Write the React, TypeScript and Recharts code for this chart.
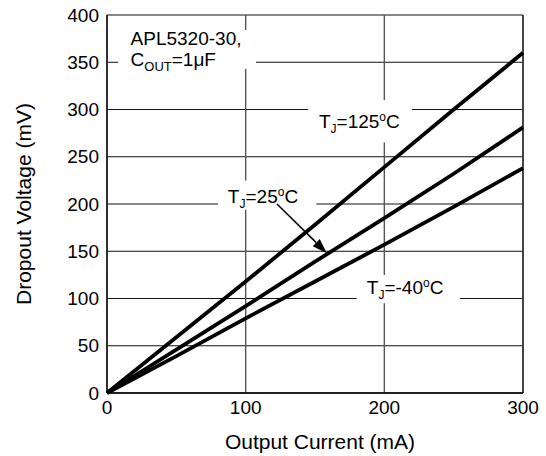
import {
  LineChart,
  Line,
  XAxis,
  YAxis,
  CartesianGrid,
  ReferenceArea,
  ReferenceDot,
  ReferenceLine,
} from "recharts";

// dropout voltage vs output current, APL5320-30
const currents = [0, 50, 100, 150, 200, 250, 300];
const tj125 = [0, 59, 118, 178, 239, 300, 360];
const tj25 = [0, 46, 92, 139, 185, 232, 281];
const tjm40 = [0, 39, 79, 118, 157, 197, 238];

const xTicks = [0, 100, 200, 300];
const yTicks = [0, 50, 100, 150, 200, 250, 300, 350, 400];

const data = currents.map((c, i) => ({
  current: c,
  t125: tj125[i],
  t25: tj25[i],
  tm40: tjm40[i],
}));

const FONT = "'Liberation Sans', Arial, Helvetica, sans-serif";

// T_J=xx°C with subscript J and superscript o
function TjLabel({ cx, cy, temp }: { cx: number; cy: number; temp: string }) {
  return (
    <text x={cx} y={cy} textAnchor="middle" fontFamily={FONT} fontSize={19} fill="#000">
      <tspan>T</tspan>
      <tspan dy={5} fontSize={12}>J</tspan>
      <tspan dy={-5}>={temp}</tspan>
      <tspan dy={-7} fontSize={12}>o</tspan>
      <tspan dy={7}>C</tspan>
    </text>
  );
}

function PartLabel({ cx, cy }: { cx: number; cy: number }) {
  return (
    <text x={cx} y={cy} fontFamily={FONT} fontSize={19} fill="#000">
      <tspan x={cx}>APL5320-30,</tspan>
      <tspan x={cx} dy={21}>C</tspan>
      <tspan dy={5} fontSize={13}>OUT</tspan>
      <tspan dy={-5}>=1μF</tspan>
    </text>
  );
}

function Arrow(props: any) {
  const { x1, y1, x2, y2 } = props;
  const ang = Math.atan2(y2 - y1, x2 - x1);
  const len = 15;
  const w = 5;
  const bx = x2 - len * Math.cos(ang);
  const by = y2 - len * Math.sin(ang);
  const px = -Math.sin(ang) * w;
  const py = Math.cos(ang) * w;
  return (
    <g>
      <line x1={x1} y1={y1} x2={bx} y2={by} stroke="#000" strokeWidth={1.5} />
      <polygon points={`${x2},${y2} ${bx + px},${by + py} ${bx - px},${by - py}`} fill="#000" />
    </g>
  );
}

export default function App() {
  return (
    <div style={{ position: "absolute", left: 0, top: 0, width: 546, height: 456, background: "#fff" }}>
      <LineChart
        width={546}
        height={456}
        data={data}
        margin={{ top: 15, right: 23, left: 47, bottom: 33 }}
      >
        <CartesianGrid vertical={false} stroke="#111" strokeWidth={1} />
        <CartesianGrid horizontal={false} stroke="#555" strokeWidth={1.4} />
        <XAxis
          dataKey="current"
          type="number"
          domain={[0, 300]}
          ticks={xTicks}
          tickLine={false}
          axisLine={{ stroke: "#000", strokeWidth: 1.3 }}
          tick={{ fontSize: 19, fill: "#000", fontFamily: FONT }}
          label={(p: any) => {
            const vb = p.viewBox;
            return (
              <text x={vb.x + vb.width / 2 + 5} y={449} textAnchor="middle" fontFamily={FONT} fontSize={21} fill="#000">
                Output Current (mA)
              </text>
            );
          }}
        />
        <YAxis
          type="number"
          domain={[0, 400]}
          ticks={yTicks}
          width={60}
          tickLine={false}
          axisLine={{ stroke: "#000", strokeWidth: 1.3 }}
          tick={{ fontSize: 19, fill: "#000", fontFamily: FONT }}
          label={(p: any) => {
            const vb = p.viewBox;
            const cy = vb.y + vb.height / 2;
            return (
              <text x={31} y={cy} transform={`rotate(-90 31 ${cy})`} textAnchor="middle" fontFamily={FONT} fontSize={21} fill="#000">
                Dropout Voltage (mV)
              </text>
            );
          }}
        />
        <ReferenceLine x={300} stroke="#222" strokeWidth={1.3} />

        {/* white boxes behind the annotations */}
        <ReferenceArea x1={8} x2={107.4} y1={343} y2={384} fill="#fff" fillOpacity={1} stroke="none" />
        <ReferenceArea x1={145} x2={220} y1={265} y2={310} fill="#fff" fillOpacity={1} stroke="none" />
        <ReferenceArea x1={80} x2={151} y1={194} y2={225} fill="#fff" fillOpacity={1} stroke="none" />
        <ReferenceArea x1={180} x2={254.5} y1={95} y2={125} fill="#fff" fillOpacity={1} stroke="none" />

        <Line dataKey="t125" type="linear" stroke="#000" strokeWidth={3.8} dot={false} isAnimationActive={false} />
        <Line dataKey="t25" type="linear" stroke="#000" strokeWidth={3.8} dot={false} isAnimationActive={false} />
        <Line dataKey="tm40" type="linear" stroke="#000" strokeWidth={3.8} dot={false} isAnimationActive={false} />

        <ReferenceDot x={17} y={368} r={1} shape={(p: any) => <PartLabel cx={p.cx} cy={p.cy} />} />
        <ReferenceDot x={182} y={280} r={1} shape={(p: any) => <TjLabel cx={p.cx} cy={p.cy} temp="125" />} />
        <ReferenceDot x={112.5} y={201} r={1} shape={(p: any) => <TjLabel cx={p.cx} cy={p.cy} temp="25" />} />
        <ReferenceDot x={215} y={105} r={1} shape={(p: any) => <TjLabel cx={p.cx} cy={p.cy} temp="-40" />} />
        <ReferenceLine
          segment={[
            { x: 122.6, y: 200 },
            { x: 158.6, y: 148 },
          ]}
          shape={(p: any) => <Arrow {...p} />}
        />
      </LineChart>
    </div>
  );
}
